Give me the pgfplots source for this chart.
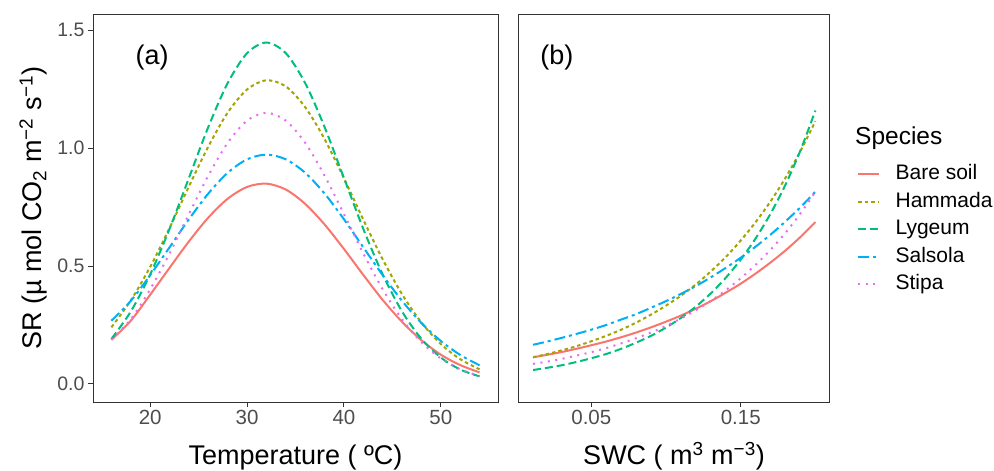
\documentclass[border=0pt]{standalone}
\usepackage{pgfplots}
\pgfplotsset{compat=1.18}
\usepackage{pgfplotstable}
\usepackage{fontspec}
\setmainfont{Liberation Sans}
\definecolor{cBare}{HTML}{F8766D}
\definecolor{cHam}{HTML}{A3A500}
\definecolor{cLyg}{HTML}{00BF7D}
\definecolor{cSal}{HTML}{00B0F6}
\definecolor{cSti}{HTML}{E76BF3}
\definecolor{frame}{HTML}{333333}
\definecolor{ticktext}{HTML}{4D4D4D}

\pgfplotstableread{
T bare ham lyg sal sti
16 0.187 0.240 0.191 0.268 0.187
18 0.268 0.354 0.307 0.352 0.274
20 0.378 0.496 0.464 0.461 0.401
22 0.492 0.661 0.657 0.579 0.553
24 0.604 0.837 0.873 0.698 0.720
26 0.705 1.006 1.089 0.807 0.883
28 0.785 1.150 1.275 0.895 1.022
30 0.835 1.248 1.402 0.952 1.116
32 0.849 1.287 1.447 0.972 1.149
34 0.824 1.261 1.402 0.952 1.116
36 0.763 1.173 1.275 0.895 1.022
38 0.676 1.038 1.089 0.807 0.883
40 0.572 0.872 0.873 0.698 0.720
42 0.462 0.696 0.657 0.579 0.553
44 0.356 0.528 0.464 0.461 0.401
46 0.263 0.380 0.307 0.352 0.274
48 0.185 0.260 0.191 0.258 0.177
50 0.124 0.169 0.112 0.182 0.108
52 0.080 0.105 0.061 0.123 0.062
54 0.049 0.062 0.032 0.079 0.033
}\tempdata

\pgfplotstableread{
S bare ham lyg sal sti
0.011 0.113 0.113 0.059 0.166 0.085
0.02 0.123 0.126 0.068 0.179 0.094
0.03 0.135 0.142 0.079 0.195 0.106
0.04 0.149 0.160 0.093 0.212 0.120
0.05 0.164 0.181 0.109 0.230 0.135
0.06 0.180 0.204 0.127 0.250 0.152
0.07 0.198 0.230 0.149 0.273 0.172
0.08 0.218 0.260 0.175 0.296 0.194
0.09 0.240 0.294 0.204 0.323 0.218
0.10 0.264 0.332 0.239 0.351 0.246
0.11 0.290 0.374 0.280 0.382 0.277
0.12 0.319 0.422 0.328 0.415 0.313
0.13 0.351 0.477 0.384 0.452 0.352
0.14 0.387 0.538 0.450 0.492 0.397
0.15 0.425 0.608 0.527 0.535 0.448
0.16 0.468 0.686 0.617 0.582 0.505
0.17 0.515 0.774 0.722 0.633 0.569
0.18 0.566 0.874 0.845 0.689 0.641
0.19 0.623 0.987 0.990 0.749 0.723
0.20 0.686 1.114 1.159 0.815 0.814
}\swcdata

\pgfplotsset{
  panel/.style={
    scale only axis, height=388pt,
    ymin=-0.0765, ymax=1.568,
    axis line style={draw=frame, line width=0.9pt},
    tick style={draw=frame, line width=0.9pt},
    major tick length=5pt, tick align=outside,
    xtick pos=bottom, ytick pos=left,
    yticklabel style={font=\fontsize{19.5}{23}\selectfont, text=ticktext},
    xticklabel style={font=\fontsize{20.5}{24}\selectfont, text=ticktext},
    /pgf/number format/assume math mode=true,
    label style={font=\fontsize{27}{32}\selectfont},
    every axis plot/.append style={line width=2pt, smooth},
    legend image code/.code={\draw[#1, line width=2pt] (0pt,0pt) -- (21pt,0pt);},
  },
  sBare/.style={color=cBare, solid},
  sHam/.style={color=cHam, dash pattern=on 3.5pt off 3pt},
  sLyg/.style={color=cLyg, dash pattern=on 8pt off 4pt},
  sSal/.style={color=cSal, dash pattern=on 11pt off 4pt on 3pt off 4pt},
  sSti/.style={color=cSti, dash pattern=on 2pt off 5.5pt},
}

\begin{document}
\begin{tikzpicture}[x=1pt,y=1pt]
\useasboundingbox (0,0) rectangle (994,471);

\begin{axis}[panel, at={(93pt,69pt)}, anchor=south west, width=405pt,
  xmin=14.1, xmax=55.9,
  xtick={20,30,40,50}, xticklabels={20,30,40,50},
  ytick={0,0.5,1,1.5}, yticklabels={0.0,0.5,1.0,1.5},
  xlabel={Temperature ( ºC)},
  xlabel style={at={(axis description cs:0.5,-0.162)}, anchor=base},
  ylabel={SR (µ mol CO\textsubscript{2} m\textsuperscript{−2} s\textsuperscript{−1})},
  ylabel style={at={(axis description cs:-0.1267,0.5)}, anchor=base, rotate=0},
]
\addplot[sBare] table[x=T, y=bare] {\tempdata};
\addplot[sHam] table[x=T, y=ham] {\tempdata};
\addplot[sLyg] table[x=T, y=lyg] {\tempdata};
\addplot[sSal] table[x=T, y=sal] {\tempdata};
\addplot[sSti] table[x=T, y=sti] {\tempdata};
\node[font=\fontsize{27}{32}\selectfont] at (rel axis cs:0.146,0.888) {(a)};
\end{axis}

\begin{axis}[panel, at={(518.7pt,69pt)}, anchor=south west, width=310.6pt,
  xmin=0.0014, xmax=0.2093,
  xtick={0.05,0.15}, xticklabels={0.05,0.15},
  ytick=\empty,
  xlabel={SWC ( m\textsuperscript{3} m\textsuperscript{−3})},
  xlabel style={at={(axis description cs:0.5,-0.162)}, anchor=base},
  legend cell align=left,
  legend style={at={(1.089,0.614)}, anchor=north west, draw=none, fill=none,
    inner sep=0pt, font=\fontsize{21}{25}\selectfont,
    row sep=6.5pt,
    nodes={inner sep=0pt, text height=16pt, text depth=5pt},
    /tikz/every odd column/.append style={column sep=15.5pt}},
]
\addplot[sBare] table[x=S, y=bare] {\swcdata};
\addlegendentry{Bare soil}
\addplot[sHam] table[x=S, y=ham] {\swcdata};
\addlegendentry{Hammada}
\addplot[sLyg] table[x=S, y=lyg] {\swcdata};
\addlegendentry{Lygeum}
\addplot[sSal] table[x=S, y=sal] {\swcdata};
\addlegendentry{Salsola}
\addplot[sSti] table[x=S, y=sti] {\swcdata};
\addlegendentry{Stipa}
\node[font=\fontsize{27}{32}\selectfont] at (rel axis cs:0.123,0.888) {(b)};
\end{axis}

\node[anchor=base west, inner sep=0pt, font=\fontsize{24.5}{29}\selectfont] at (855,326.2) {Species};
\end{tikzpicture}
\end{document}
